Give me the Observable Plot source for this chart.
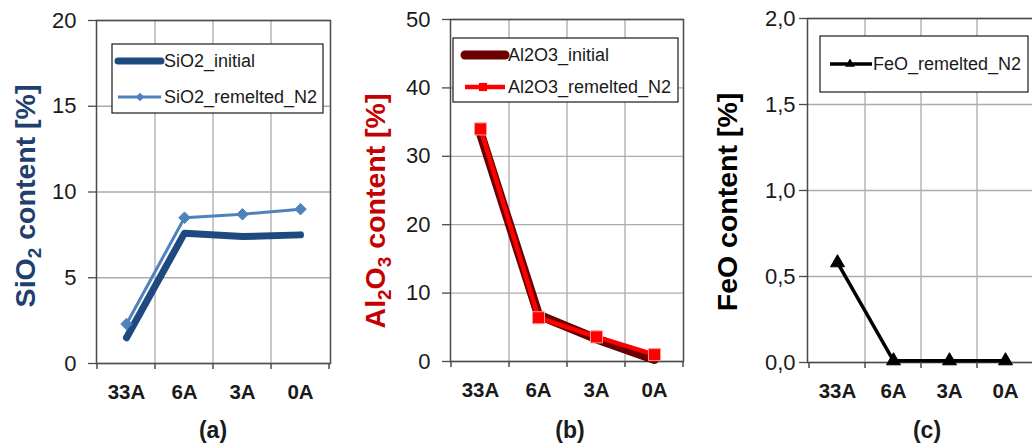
<!DOCTYPE html>
<html><head><meta charset="utf-8">
<script src="https://cdn.jsdelivr.net/npm/d3@7"></script>
<script src="https://cdn.jsdelivr.net/npm/@observablehq/plot@0.6"></script>
<style>
html,body{margin:0;padding:0;background:#fff;}
#wrap{position:relative;width:1032px;height:447px;overflow:hidden;font-family:"Liberation Sans",Arial,sans-serif;}
#wrap svg{position:absolute;top:0;}
</style></head><body><div id="wrap"></div>
<script>
// ---- data ----
const categories = ["33A", "6A", "3A", "0A"];
const sio2InitialName = "SiO2_initial";
const sio2RemeltedName = "SiO2_remelted_N2";
const sio2Initial = [1.5, 7.6, 7.4, 7.5];
const sio2Remelted = [2.3, 8.5, 8.7, 9.0];
const al2o3InitialName = "Al2O3_initial";
const al2o3RemeltedName = "Al2O3_remelted_N2";
const al2o3Initial = [33.3, 6.8, 3.3, 0.3];
const al2o3Remelted = [34.0, 6.4, 3.6, 1.0];
const feoRemeltedName = "FeO_remelted_N2";
const feoRemelted = [0.58, 0.01, 0.01, 0.01];
const sio2Ticks = [0, 5, 10, 15, 20];
const al2o3Ticks = [0, 10, 20, 30, 40, 50];
const feoTicks = [0, 0.5, 1.0, 1.5, 2.0];

// ---- styling ----
const GRID = "#ababab", FRAME = "#4a4a4a", TEXT = "#1a1a1a";
const FONT = "'Liberation Sans', Arial, sans-serif";

const panels = [
  {
    left: 0, width: 345, mL: 96, mR: 15, mT: 20, mB: 84,
    yDomain: [0, 20], ticks: sio2Ticks, fmt: d => String(d), tickPad: 12,
    title: [["SiO", false], ["2", true], [" content [%]", false]], titleColor: "#1f3f6e", titlePos: [35, 196],
    caption: "(a)", capX: 213,
    series: [
      {name: sio2InitialName, values: sio2Initial, color: "#1f4a80", width: 7},
      {name: sio2RemeltedName, values: sio2Remelted, color: "#4f81bd", width: 3, symbol: "diamond2", r: 5.2, fill: "#4f81bd", stroke: "#4f81bd", legR: 3.8}
    ],
    legend: {box: [112, 44, 323, 113], ys: [61, 97], x1: 118, x2: 161, mx: 140, tx: 164}
  },
  {
    left: 345, width: 345, mL: 105, mR: 7, mT: 19, mB: 86,
    yDomain: [0, 50], ticks: al2o3Ticks, fmt: d => String(d), tickPad: 12,
    title: [["Al", false], ["2", true], ["O", false], ["3", true], [" content [%]", false]], titleColor: "#c40000", titlePos: [40, 211],
    caption: "(b)", capX: 225,
    series: [
      {name: al2o3InitialName, values: al2o3Initial, color: "#6b0000", width: 9},
      {name: al2o3RemeltedName, values: al2o3Remelted, color: "#ff0000", width: 4.5, symbol: "square", r: 6.8, fill: "#ff0000", stroke: "#ff9a9a", legR: 4.6}
    ],
    legend: {box: [108, 38, 333, 102], ys: [55, 87], x1: 120, x2: 160, mx: 138, tx: 163}
  },
  {
    left: 690, width: 350, mL: 117, mR: 6, mT: 18, mB: 85,
    yDomain: [0, 2], ticks: feoTicks, fmt: d => d.toFixed(1).replace(".", ","), tickPad: 4,
    title: [["FeO content [%]", false]], titleColor: "#000000", titlePos: [46.5, 202],
    caption: "(c)", capX: 237,
    series: [
      {name: feoRemeltedName, values: feoRemelted, color: "#000000", width: 3.5, symbol: "triangle", r: 5.2, fill: "#000000", stroke: "#000000", legR: 3.6}
    ],
    legend: {box: [130, 36, 338, 92], ys: [64], x1: 140, x2: 182, mx: 160, tx: 183}
  }
];

const wrap = document.getElementById("wrap");

for (const p of panels) {
  const marks = [
    Plot.gridY(p.ticks, {stroke: GRID, strokeOpacity: 1, strokeWidth: 1.3}),
  ];
  for (const s of p.series) {
    const rows = categories.map((c, i) => ({cat: c, v: s.values[i]}));
    marks.push(Plot.line(rows, {x: "cat", y: "v", stroke: s.color, strokeWidth: s.width, strokeLinejoin: "round", strokeLinecap: "round"}));
    if (s.symbol) marks.push(Plot.dot(rows, {x: "cat", y: "v", symbol: s.symbol, r: s.r, fill: s.fill, stroke: s.stroke, strokeWidth: 1}));
  }
  const plot = Plot.plot({
    width: p.width, height: 447,
    marginLeft: p.mL, marginRight: p.mR, marginTop: p.mT, marginBottom: p.mB,
    style: {fontFamily: FONT, color: TEXT, background: "transparent", overflow: "visible"},
    x: {type: "band", domain: categories, padding: 0, label: null},
    y: {domain: p.yDomain, label: null},
    marks: [
      ...marks.slice(0, 1),
      Plot.frame({stroke: FRAME, strokeWidth: 1.5}),
      Plot.axisY(p.ticks, {tickSize: 8, tickPadding: p.tickPad, fontSize: 22, tickFormat: p.fmt, label: null, stroke: FRAME, strokeWidth: 1.3}),
      Plot.axisX({tickSize: 0, tickPadding: 21, fontSize: 20.5, fontWeight: "bold", label: null}),
      ...marks.slice(1)
    ]
  });
  plot.style.left = p.left + "px";
  wrap.appendChild(plot);

  const svg = d3.select(plot);
  const xs = plot.scale("x"), ys = plot.scale("y");
  const bottom = ys.apply(p.yDomain[0]), top = ys.apply(p.yDomain[1]);
  const bounds = xs.domain.map(d => xs.apply(d));
  bounds.push(xs.apply(xs.domain[xs.domain.length - 1]) + xs.bandwidth);

  // vertical gridlines at category boundaries (behind everything)
  const gv = svg.insert("g", "g");
  gv.selectAll("line").data(bounds.slice(1, -1)).join("line")
    .attr("x1", d => d).attr("x2", d => d).attr("y1", top).attr("y2", bottom)
    .attr("stroke", GRID).attr("stroke-width", 1.3);
  // tick marks at boundaries below the x axis
  const gt = svg.append("g");
  gt.selectAll("line").data(bounds).join("line")
    .attr("x1", d => d).attr("x2", d => d).attr("y1", bottom).attr("y2", bottom + 6)
    .attr("stroke", FRAME).attr("stroke-width", 1.5);

  // y-axis title with subscripts (baseline at titlePos x)
  const t = svg.append("text")
    .attr("transform", `translate(${p.titlePos[0]},${p.titlePos[1]}) rotate(-90)`)
    .attr("text-anchor", "middle")
    .attr("font-size", 28.5).attr("font-weight", "bold").attr("fill", p.titleColor).attr("font-family", FONT);
  let shifted = false;
  for (const [txt, sub] of p.title) {
    const ts = t.append("tspan").text(txt);
    if (sub) { ts.attr("font-size", 19).attr("dy", shifted ? 0 : 6); shifted = true; }
    else { ts.attr("dy", shifted ? -6 : 0); shifted = false; }
  }

  // caption
  svg.append("text").attr("x", p.capX).attr("y", 430).attr("dy", "0.35em")
    .attr("text-anchor", "middle").attr("font-size", 23).attr("font-weight", "bold")
    .attr("fill", TEXT).attr("font-family", FONT).text(p.caption);

  // legend
  const L = p.legend;
  const lg = svg.append("g");
  lg.append("rect").attr("x", L.box[0]).attr("y", L.box[1])
    .attr("width", L.box[2] - L.box[0]).attr("height", L.box[3] - L.box[1])
    .attr("fill", "#fff").attr("stroke", "#1a1a1a").attr("stroke-width", 1.2);
  p.series.forEach((s, i) => {
    const y = L.ys[i];
    lg.append("line").attr("x1", L.x1).attr("x2", L.x2).attr("y1", y).attr("y2", y)
      .attr("stroke", s.color).attr("stroke-width", s.width).attr("stroke-linecap", s.symbol ? "butt" : "round");
    if (s.symbol) {
      const sym = {diamond2: d3.symbolDiamond2, square: d3.symbolSquare, triangle: d3.symbolTriangle}[s.symbol];
      lg.append("path").attr("transform", `translate(${L.mx},${y})`)
        .attr("d", d3.symbol(sym, Math.PI * s.legR * s.legR)())
        .attr("fill", s.fill);
    }
    lg.append("text").attr("x", L.tx).attr("y", y).attr("dy", "0.35em")
      .attr("text-anchor", "start")
      .attr("font-size", 18).attr("fill", TEXT).attr("font-family", FONT).text(s.name);
  });
}
</script></body></html>
